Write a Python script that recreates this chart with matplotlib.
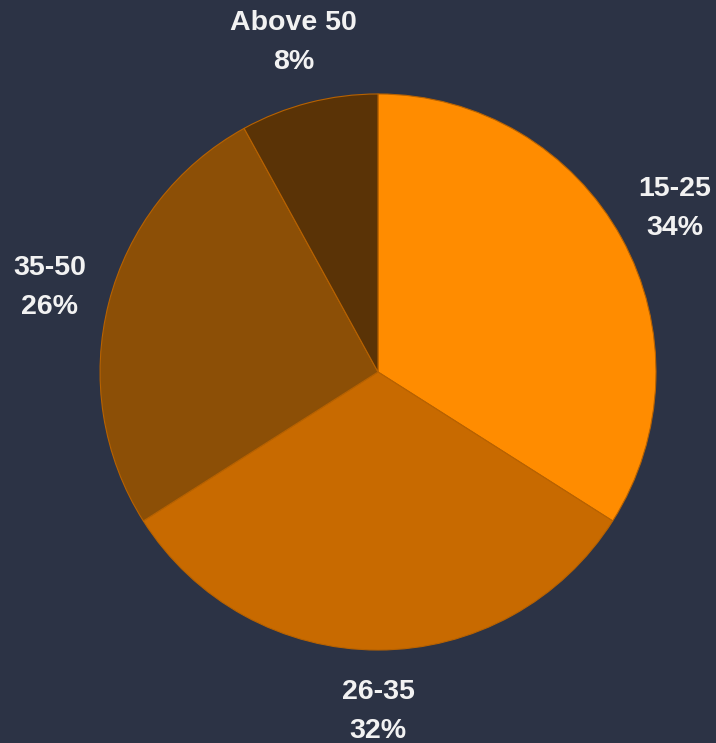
import matplotlib.pyplot as plt
import numpy as np

plt.rcParams['font.family'] = ['Liberation Sans', 'DejaVu Sans']

age_groups = ['15-25', '26-35', '35-50', 'Above 50']
shares = [34, 32, 26, 8]
slice_colors = ['#FF8C00', '#C86A00', '#8C4F06', '#5A3306']
bg = '#2C3345'

fig = plt.figure(figsize=(7.16, 7.43), dpi=100, facecolor=bg)
ax = fig.add_axes([0, 0, 1, 1])
ax.set_facecolor(bg)

labels = ['{}\n{}%'.format(g, s) for g, s in zip(age_groups, shares)]
wedges, texts = ax.pie(shares, labels=labels, colors=slice_colors,
                       startangle=90, counterclock=False, radius=1.0,
                       labeldistance=1.22,
                       wedgeprops=dict(linewidth=0.8, edgecolor='#B86200'),
                       textprops=dict(color='#F2F2F2', fontsize=20.5,
                                      fontweight='bold', linespacing=1.65))

for t in texts:
    t.set_ha('center')
    t.set_va('center')

# pull the top label up a touch
x, y = texts[3].get_position()
texts[3].set_position((x, y + 0.005))

ax.set_xlim(-1.36, 1.216)
ax.set_ylim(-1.3345, 1.338)
ax.set_aspect('auto')
ax.axis('off')

fig.savefig('out.png', dpi=100, facecolor=bg)
